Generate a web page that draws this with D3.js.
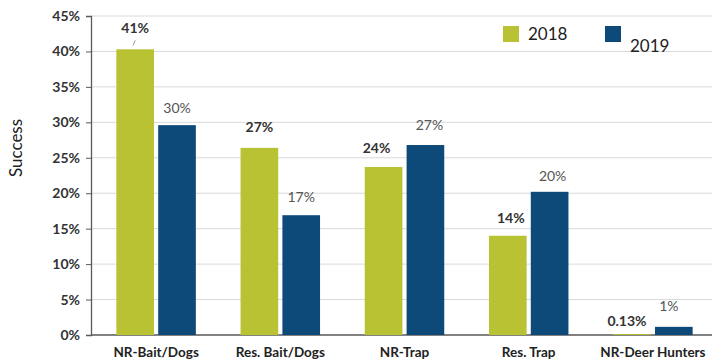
<!DOCTYPE html>
<html><head><meta charset="utf-8">
<script src="https://cdn.jsdelivr.net/npm/d3@7"></script>
<style>body{margin:0;background:#fff}svg{display:block}text{font-family:Lato,"Open Sans",sans-serif}</style>
</head><body><svg id="c" width="720" height="364"></svg>
<script>
const categories = ["NR-Bait/Dogs","Res. Bait/Dogs","NR-Trap","Res. Trap","NR-Deer Hunters"];
const seriesNames = ["2018","2019"];
const values2018 = [40.3, 26.4, 23.7, 14.0, 0.13];
const values2019 = [29.6, 16.9, 26.8, 20.2, 1.15];
const labels2018 = ["41%","27%","24%","14%","0.13%"];
const labels2019 = ["30%","17%","27%","20%","1%"];
const yTicks = [0,5,10,15,20,25,30,35,40,45];

const colors = {"2018":"#b8c232","2019":"#0d4a7a"};
const svg = d3.select("#c");
const m = {l:91, r:6, t:16, b:29};
const W = 720, H = 364;
const x0 = d3.scaleBand().domain(categories).range([94, 715]).paddingInner(0.36).paddingOuter(0.18);
const x1 = d3.scaleBand().domain(seriesNames).range([0, x0.bandwidth()]).paddingInner(0.1);
const y = d3.scaleLinear().domain([0,45]).range([H - m.b, m.t]);

// gridlines
svg.append("g").selectAll("line").data(yTicks.filter(d=>d>0)).join("line")
  .attr("x1", m.l).attr("x2", 712).attr("y1", d=>y(d)).attr("y2", d=>y(d))
  .attr("stroke", "#d9d9d9").attr("stroke-width", 1);

// y axis
const yAxis = d3.axisLeft(y).tickValues(yTicks).tickFormat(d=>d+"%").tickSize(5).tickPadding(6);
const ga = svg.append("g").attr("transform", `translate(${m.l},0)`).call(yAxis);
ga.select(".domain").attr("stroke","#595959").attr("stroke-width",1.3);
ga.selectAll(".tick line").attr("stroke","#595959");
ga.selectAll("text").attr("font-size",14).attr("font-weight","bold").attr("fill","#333");

// x axis
const gx = svg.append("g").attr("transform", `translate(0,${y(0)})`)
  .call(d3.axisBottom(x0).tickSize(0).tickPadding(12));
gx.select(".domain").attr("stroke","#595959").attr("stroke-width",1.3).attr("d", `M${m.l},0H712`);
gx.selectAll("text").attr("font-size",13.5).attr("font-weight","bold").attr("fill","#222");

const data = categories.map((c,i)=>({c, vals:[
  {s:"2018", v:values2018[i], lab:labels2018[i]},
  {s:"2019", v:values2019[i], lab:labels2019[i]}]}));

const g = svg.append("g").selectAll("g").data(data).join("g")
  .attr("transform", d=>`translate(${x0(d.c)},0)`);
g.selectAll("rect").data(d=>d.vals).join("rect")
  .attr("x", d=>x1(d.s)).attr("width", x1.bandwidth())
  .attr("y", d=>y(d.v)).attr("height", d=>y(0)-y(d.v))
  .attr("fill", d=>colors[d.s]);

// labels
const offsets = {
  "NR-Bait/Dogs":[{dx:0,dy:-16},{dx:0,dy:-12}],
  "Res. Bait/Dogs":[{dx:0,dy:-16},{dx:0,dy:-13}],
  "NR-Trap":[{dx:-7,dy:-14},{dx:4,dy:-15}],
  "Res. Trap":[{dx:3,dy:-13},{dx:3,dy:-11}],
  "NR-Deer Hunters":[{dx:-5,dy:-8},{dx:-5,dy:-16}]
};
g.each(function(d){
  const sel = d3.select(this);
  d.vals.forEach((v,j)=>{
    const o = offsets[d.c][j];
    sel.append("text")
      .attr("x", x1(v.s) + x1.bandwidth()/2 + o.dx)
      .attr("y", y(v.v) + o.dy)
      .attr("text-anchor","middle")
      .attr("font-size",14)
      .attr("font-weight", j===0 ? "bold" : "normal")
      .attr("fill", j===0 ? "#333" : "#555")
      .text(v.lab);
  });
});
// leader line for 41%
{
  const cx = x0(categories[0]) + x1("2018") + x1.bandwidth()/2;
  svg.append("line").attr("x1", cx-2).attr("y1", y(values2018[0])-4)
    .attr("x2", cx).attr("y2", y(values2018[0])-9)
    .attr("stroke","#999").attr("stroke-width",1);
}

// y title
svg.append("text").attr("transform","translate(22,148) rotate(-90)")
  .attr("text-anchor","middle").attr("font-size",17).attr("fill","#222").text("Success");

// legend
const leg = [{s:"2018", x:503, ty:40},{s:"2019", x:605, ty:52}];
leg.forEach(l=>{
  svg.append("rect").attr("x", l.x).attr("y", 26).attr("width",16).attr("height",16).attr("fill", colors[l.s]);
  svg.append("text").attr("x", l.x+25).attr("y", l.ty).attr("font-size",17).attr("fill","#222").text(l.s);
});
</script></body></html>
